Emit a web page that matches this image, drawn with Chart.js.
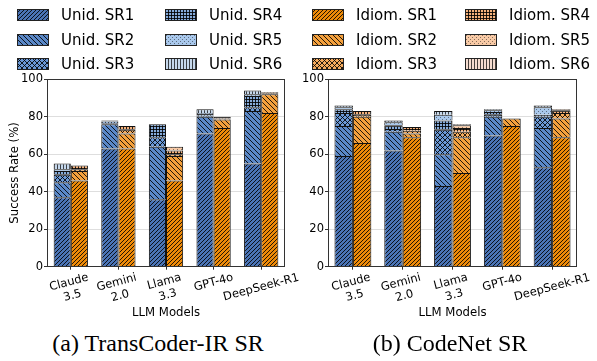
<!DOCTYPE html>
<html><head><meta charset="utf-8">
<script src="https://cdn.jsdelivr.net/npm/chart.js@4.4.1/dist/chart.umd.min.js"></script>
<style>
html,body{margin:0;padding:0;background:#fff;width:597px;height:361px;overflow:hidden;position:relative;}
canvas.chart{position:absolute;top:0;}
.legtxt{position:absolute;font:15px "DejaVu Sans";color:#000;white-space:nowrap;line-height:18px;}
.sw{position:absolute;}
.cap{position:absolute;font:24px "Liberation Serif";width:300px;text-align:center;line-height:26px;color:#000;white-space:nowrap;}
</style></head><body>
<canvas id="c1" class="chart" width="312" height="320" style="left:0px"></canvas>
<canvas id="c2" class="chart" width="302" height="320" style="left:295px"></canvas>
<div class="cap" style="left:8px;top:330px">(a) TransCoder-IR SR</div>
<div class="cap" style="left:300px;top:330px">(b) CodeNet SR</div>
<script>
// ---- data ----
const categories = [["Claude","3.5"],["Gemini","2.0"],["Llama","3.3"],"GPT-4o","DeepSeek-R1"];
const yTicks = [0,20,40,60,80,100];
const seriesNames = ["SR1","SR2","SR3","SR4","SR5","SR6"];

// TransCoder-IR, Unidiomatic (increment per SR level)
const tcUnidSR1 = [37, 63, 36, 71, 55];
const tcUnidSR2 = [8, 13, 28, 9, 28];
const tcUnidSR3 = [4, 0.5, 5, 0.5, 2];
const tcUnidSR4 = [2, 1, 7, 1, 6];
const tcUnidSR5 = [1, 0.5, 0, 0.5, 1];
const tcUnidSR6 = [3, 0, 0, 2, 2];
// TransCoder-IR, Idiomatic
const tcIdiomSR1 = [46, 63, 46, 74, 82];
const tcIdiomSR2 = [5, 8, 13, 4.5, 10];
const tcIdiomSR3 = [1, 2, 1, 0.5, 0.5];
const tcIdiomSR4 = [2, 2, 2, 1, 0.5];
const tcIdiomSR5 = [0, 0, 2, 0, 0];
const tcIdiomSR6 = [0, 0, 0, 0, 0];
// CodeNet, Unidiomatic
const cnUnidSR1 = [59, 62, 43, 70, 53];
const cnUnidSR2 = [16, 10, 17, 10, 21];
const cnUnidSR3 = [7, 1.5, 13, 1, 6];
const cnUnidSR4 = [2, 2, 5, 1.5, 1];
const cnUnidSR5 = [1, 1.5, 3, 1, 4];
const cnUnidSR6 = [1, 1, 2, 0.5, 1];
// CodeNet, Idiomatic
const cnIdiomSR1 = [66, 69, 50, 75, 69];
const cnIdiomSR2 = [14, 2, 19, 4, 10];
const cnIdiomSR3 = [1, 1.5, 3, 0, 3];
const cnIdiomSR4 = [2, 2, 2, 0, 1.5];
const cnIdiomSR5 = [0, 0, 1.5, 0, 0.5];
const cnIdiomSR6 = [0, 0, 0.5, 0, 0];

// ---- styles ----
const unidColors = ['#4a74b6','#5a88c8','#6a98d6','#86acdc','#a9c8ec','#c6d8ec'];
const idiomColors = ['#ee8a08','#f4a03c','#f5ac5e','#f6b27c','#f8caa6','#f5dcd0'];
const hatchKinds = ['fwd','back','cross','grid','dots','vert'];

function makeTile(base, kind){
  const sizes = {fwd:4, back:5, cross:5, grid:3, dots:4, vert:3};
  const s = sizes[kind];
  const c = document.createElement('canvas'); c.width = s; c.height = s;
  const g = c.getContext('2d');
  g.fillStyle = base; g.fillRect(0,0,s,s);
  g.strokeStyle = 'rgba(0,0,0,0.85)'; g.fillStyle = 'rgba(0,0,0,0.85)'; g.lineWidth = 1;
  const line = (x1,y1,x2,y2)=>{g.beginPath();g.moveTo(x1,y1);g.lineTo(x2,y2);g.stroke();};
  if (kind==='fwd' || kind==='cross'){
    line(-1,s+1,s+1,-1); line(-1,1,1,-1); line(s-1,s+1,s+1,s-1);
  }
  if (kind==='back' || kind==='cross'){
    line(-1,-1,s+1,s+1); line(s-1,-1,s+1,1); line(-1,s-1,1,s+1);
  }
  if (kind==='grid'){
    g.fillRect(0,0,s,1); g.fillRect(0,0,1,s);
  }
  if (kind==='dots'){
    g.fillStyle='rgba(0,0,0,0.45)'; g.fillRect(1,1,1,1); g.fillRect(3,3,1,1);
  }
  if (kind==='vert'){
    g.fillStyle='rgba(0,0,0,0.7)'; g.fillRect(0,0,1,s);
  }
  return c;
}
function makePattern(ctx, base, kind){ return ctx.createPattern(makeTile(base, kind), 'repeat'); }

// ---- legend (HTML) ----
const legendColX = [17, 165, 312, 465];
const legendRowY = [15, 39.5, 64];
const legendTextDX = 44;
function buildLegend(){
  const entries = [];
  for (let k=0;k<6;k++) entries.push({label:'Unid. '+seriesNames[k], color:unidColors[k], kind:hatchKinds[k], col: k<3?0:1, row:k%3});
  for (let k=0;k<6;k++) entries.push({label:'Idiom. '+seriesNames[k], color:idiomColors[k], kind:hatchKinds[k], col: k<3?2:3, row:k%3});
  entries.forEach(e=>{
    const cv = document.createElement('canvas'); cv.width=32; cv.height=12; cv.className='sw';
    cv.style.left = legendColX[e.col]+'px'; cv.style.top = (legendRowY[e.row]-6)+'px';
    const g = cv.getContext('2d');
    g.fillStyle = makePattern(g, e.color, e.kind); g.fillRect(0,0,32,12);
    g.strokeStyle='#222'; g.lineWidth=1; g.strokeRect(0.5,0.5,31,11);
    document.body.appendChild(cv);
    const t = document.createElement('div'); t.className='legtxt'; t.textContent = e.label;
    t.style.left = (legendColX[e.col]+legendTextDX)+'px'; t.style.top = (legendRowY[e.row]-9)+'px';
    document.body.appendChild(t);
  });
}
buildLegend();

// ---- plugins ----
const boxPlugin = {
  id:'box',
  afterDraw(chart){
    const {ctx, chartArea:a} = chart;
    ctx.save(); ctx.strokeStyle='#333'; ctx.lineWidth=1;
    const l=Math.round(a.left)+0.5, t=Math.round(a.top)+0.5, r=Math.round(a.right)-0.5, b=Math.round(a.bottom)-0.5;
    ctx.strokeRect(l,t,r-l,b-t);
    ctx.restore();
  }
};
const centerLabels = {
  id:'centerLabels',
  beforeDraw(chart){
    const sc = chart.scales.x; if (!sc || !sc.getLabelItems) return;
    const items = sc.getLabelItems();
    const ctx = chart.ctx;
    items.forEach(it=>{
      if (it._centered) return; it._centered = true;
      const o = it.options || it;
      const a = o.rotation || 0; const s = Math.abs(Math.sin(a));
      const lines = Array.isArray(it.label)? it.label : [it.label];
      ctx.save(); ctx.font = it.font.string;
      let w = 0; lines.forEach(l=>{ w = Math.max(w, ctx.measureText(l).width); });
      ctx.restore();
      const lh = it.font.lineHeight;
      const px = o.translation[0] - (lh/2)*Math.sin(a);
      o.translation = [px - lines.length*lh*s/2, o.translation[1] + (w/2)*s];
      o.textAlign = 'center';
    });
  }
};

function buildChart(id, sets, opts){
  const cv = document.getElementById(id);
  const ctx = cv.getContext('2d');
  const datasets = [];
  sets.unid.forEach((arr,k)=>datasets.push({label:'Unid. '+seriesNames[k], data:arr.map(v=>v===0?null:v), stack:'unid',
    backgroundColor:makePattern(ctx, unidColors[k], hatchKinds[k]), borderColor:'#111', borderWidth:1}));
  sets.idiom.forEach((arr,k)=>datasets.push({label:'Idiom. '+seriesNames[k], data:arr.map(v=>v===0?null:v), stack:'idiom',
    backgroundColor:makePattern(ctx, idiomColors[k], hatchKinds[k]), borderColor:'#111', borderWidth:1}));
  const tickFont = {family:'DejaVu Sans', size:11.5};
  const titleFont = {family:'DejaVu Sans', size:11.7};
  return new Chart(ctx, {
    type:'bar',
    data:{labels:categories, datasets},
    plugins:[centerLabels, boxPlugin],
    options:{
      responsive:false, animation:false, events:[],
      layout:{padding:{top:79.2, right:opts.padRight, bottom:0, left:0}},
      plugins:{legend:{display:false}, tooltip:{enabled:false}},
      datasets:{bar:{categoryPercentage:opts.catPct, barPercentage:1}},
      scales:{
        x:{stacked:true, offset:true,
           grid:{display:true, drawOnChartArea:false, drawTicks:true, tickLength:3, tickColor:'#333', offset:false},
           border:{display:false},
           ticks:{font:tickFont, color:'#000', minRotation:15, maxRotation:15, padding:1, autoSkip:false},
           title:{display:true, text:'LLM Models', font:titleFont, color:'#000', padding:{top:0,bottom:0}},
           afterFit(s){ s.height = 53.3; }},
        y:{stacked:true, min:0, max:100,
           afterBuildTicks(s){ s.ticks = yTicks.map(v=>({value:v})); },
           grid:{color:'#dedede', lineWidth:1, tickColor:'#333', tickLength:3},
           border:{display:false},
           ticks:{font:tickFont, color:'#000', padding:1},
           title:{display:opts.yTitle, text:'Success Rate (%)', font:titleFont, color:'#000', padding:{top:8,bottom:0}},
           afterFit(s){ s.width = opts.yWidth; }}
      }
    }
  });
}

buildChart('c1', {unid:[tcUnidSR1,tcUnidSR2,tcUnidSR3,tcUnidSR4,tcUnidSR5,tcUnidSR6],
                  idiom:[tcIdiomSR1,tcIdiomSR2,tcIdiomSR3,tcIdiomSR4,tcIdiomSR5,tcIdiomSR6]},
           {padRight:27, catPct:0.72, yTitle:true, yWidth:47});
buildChart('c2', {unid:[cnUnidSR1,cnUnidSR2,cnUnidSR3,cnUnidSR4,cnUnidSR5,cnUnidSR6],
                  idiom:[cnIdiomSR1,cnIdiomSR2,cnIdiomSR3,cnIdiomSR4,cnIdiomSR5,cnIdiomSR6]},
           {padRight:20, catPct:0.74, yTitle:false, yWidth:33});
</script>
</body></html>
